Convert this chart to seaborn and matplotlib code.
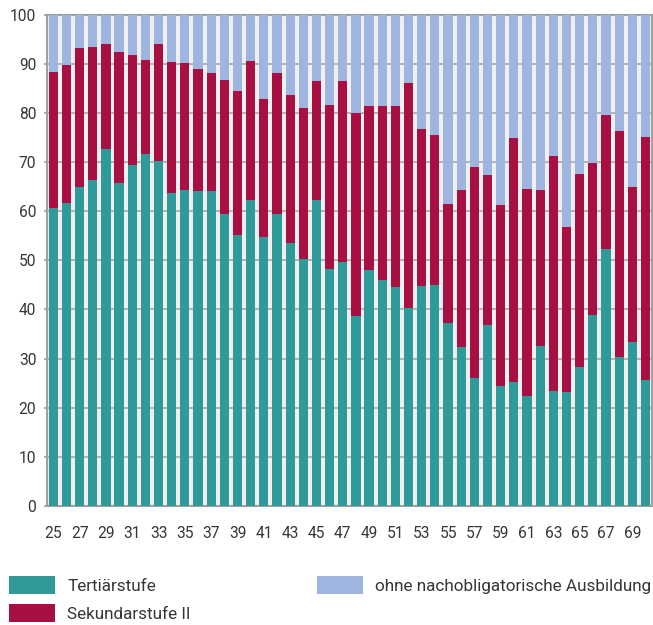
import matplotlib
matplotlib.use("Agg")
import matplotlib.pyplot as plt
import seaborn as sns
import numpy as np
import pandas as pd
from matplotlib.patches import Patch

ages = list(range(25, 71))
tertiaer = [60.7, 61.7, 65.0, 66.4, 72.6, 65.8, 69.5, 71.7, 70.3, 63.8, 64.4, 64.2, 64.2, 59.5,
            55.2, 62.3, 54.8, 59.5, 53.6, 50.3, 62.3, 48.3, 49.7, 38.7, 48.1, 46.1, 44.6, 40.4,
            44.8, 45.0, 37.3, 32.4, 26.1, 36.8, 24.4, 25.3, 22.4, 32.6, 23.4, 23.2, 28.3, 38.9,
            52.3, 30.4, 33.4, 25.7]
sekundar = [27.6, 28.0, 28.3, 27.1, 21.4, 26.7, 22.2, 19.0, 23.7, 26.5, 25.7, 24.8, 24.0, 27.3,
            29.2, 28.2, 28.1, 28.7, 30.1, 30.8, 24.3, 33.4, 36.9, 41.2, 33.4, 35.4, 36.9, 45.6,
            32.0, 30.6, 24.2, 32.0, 42.8, 30.6, 36.8, 49.7, 42.2, 31.7, 47.9, 33.5, 39.3, 31.0,
            27.2, 46.0, 31.6, 49.5]
ohne = [round(100 - t - s, 1) for t, s in zip(tertiaer, sekundar)]
series_labels = ["Tertiärstufe", "Sekundarstufe II", "ohne nachobligatorische Ausbildung"]
colors = ["#2e9a9a", "#a81044", "#9db5df"]
yticks = list(range(0, 101, 10))

df = pd.DataFrame({"age": [str(a) for a in ages], "tert": tertiaer, "sek": sekundar, "ohne": ohne})
df["cum1"] = df["tert"]
df["cum2"] = df["tert"] + df["sek"]
df["cum3"] = df["cum2"] + df["ohne"]

plt.rcParams["font.family"] = ["Roboto", "DejaVu Sans"]
txtcol = "#363636"

fig = plt.figure(figsize=(6.53, 6.25), dpi=100)
ax = fig.add_axes([0.0715, 0.1904, 0.9270, 0.7861])
ax.set_facecolor("#efefef")
order = df["age"].tolist()
for col, c in zip(["cum3", "cum2", "cum1"], colors[::-1]):
    sns.barplot(data=df, x="age", y=col, order=order, color=c, width=0.7,
                saturation=1, ax=ax, zorder=3, edgecolor="none", linewidth=0)

ax.set_xlim(-0.5, len(ages) - 0.5)
ax.set_ylim(0, 100)
ax.set_yticks(yticks)
ax.set_yticklabels([str(v) for v in yticks])
ax.set_xticks(range(0, len(ages), 2))
ax.set_xticklabels([str(a) for a in ages[::2]])
ax.set_xlabel("")
ax.set_ylabel("")
ax.yaxis.grid(True, color="#a8a8a8", linewidth=1.2, zorder=1)
ax.set_axisbelow(True)
for s in ax.spines.values():
    s.set_color("#a0a0a0")
    s.set_linewidth(1.5)
ax.tick_params(axis="y", length=2.5, color="#a0a0a0", width=1.2, pad=5,
               labelsize=11.2, labelcolor=txtcol)
ax.tick_params(axis="x", length=0, pad=14.5, labelsize=11.2, labelcolor=txtcol)

h = [Patch(facecolor=c, edgecolor="none") for c in colors]
common = dict(loc="upper left", frameon=False, handlelength=2.7, handleheight=1.23,
              handletextpad=0.7, labelspacing=0.62, prop={"size": 12.3},
              labelcolor=txtcol, borderaxespad=0, borderpad=0)
leg1 = fig.legend(h[:2], series_labels[:2], bbox_to_anchor=(0.0138, 0.0784), **common)
leg2 = fig.legend(h[2:], series_labels[2:], bbox_to_anchor=(0.4855, 0.0784), **common)
fig.savefig("out.png", dpi=100)
